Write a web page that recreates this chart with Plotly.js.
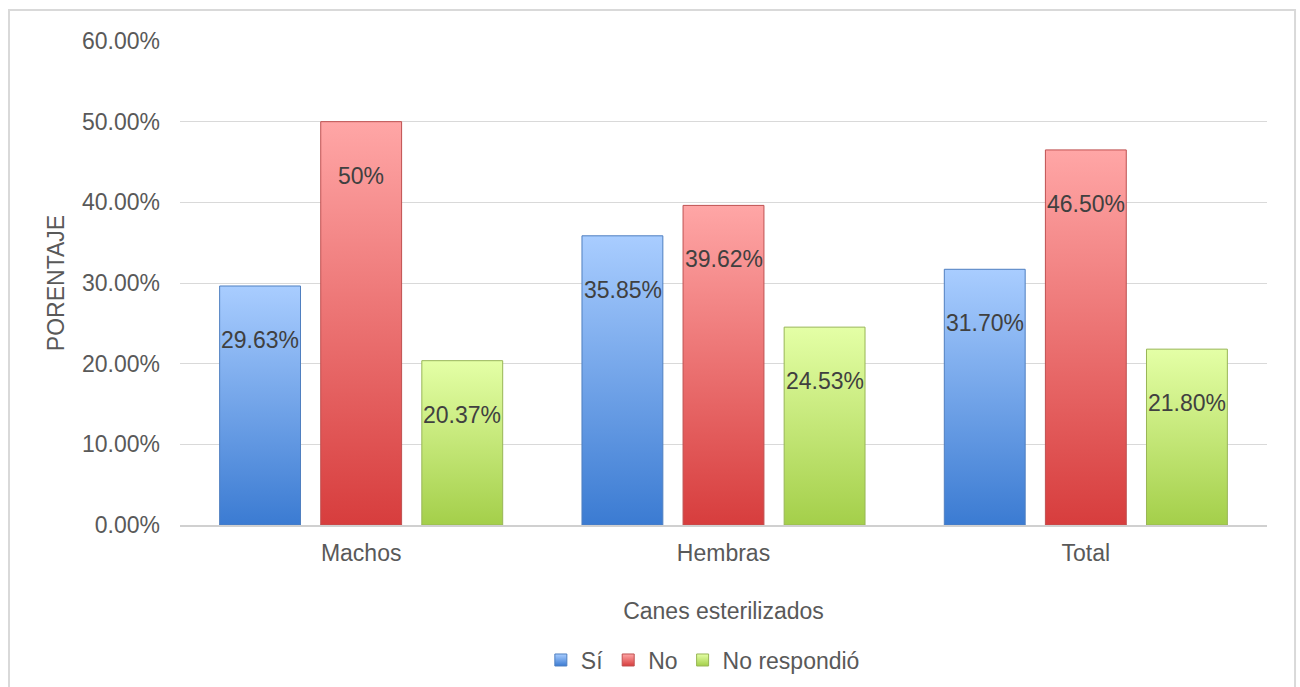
<!DOCTYPE html>
<html>
<head>
<meta charset="utf-8">
<script src="https://cdn.plot.ly/plotly-3.0.1.min.js"></script>
<style>html,body{margin:0;padding:0;background:#fff;}#chart{width:1300px;height:687px;}</style>
</head>
<body>
<div id="chart"></div>
<script>
const categories = ["Machos", "Hembras", "Total"];
const seriesNames = ["Sí", "No", "No respondió"];
const siValues = [0.2963, 0.3585, 0.3170];
const noValues = [0.50, 0.3962, 0.4650];
const nrValues = [0.2037, 0.2453, 0.2180];
const siLabels = ["29.63%", "35.85%", "31.70%"];
const noLabels = ["50%", "39.62%", "46.50%"];
const nrLabels = ["20.37%", "24.53%", "21.80%"];
const yTitle = "PORENTAJE";
const xTitle = "Canes esterilizados";

const FONT = '"Liberation Sans", Arial, sans-serif';
const FS = 23;
const solid = ["#6a9fe8", "#ec6d6d", "#c6e67a"];
const edge = ["#4f7fc0", "#bf5050", "#98b656"];
const grads = [["#a9cdff", "#3b7bd2"], ["#ffa6a6", "#d73d3d"], ["#e4ffa6", "#a4cf4a"]];

function mk(name, y, i) {
  return {
    type: "bar", name: name, x: categories, y: y,
    marker: {color: solid[i], line: {color: edge[i], width: 1}},
    hoverinfo: "skip"
  };
}
const allValues = [siValues, noValues, nrValues];
const allLabels = [siLabels, noLabels, nrLabels];
const data = allValues.map((v, i) => mk(seriesNames[i], v, i));

// data labels placed from the same values, shifted to sit inside the bars
const BAR_STEP = 101;
const annotations = [];
allValues.forEach((vals, s) => {
  vals.forEach((v, c) => {
    annotations.push({
      x: categories[c], y: v, xref: "x", yref: "y",
      text: allLabels[s][c], showarrow: false,
      xshift: (s - 1) * BAR_STEP, yshift: -54, yanchor: "middle", xanchor: "center",
      font: {family: FONT, size: FS, color: "#404040"}
    });
  });
});

const layout = {
  width: 1300, height: 687,
  margin: {l: 180, r: 33, t: 41, b: 162, autoexpand: false},
  paper_bgcolor: "#ffffff", plot_bgcolor: "#ffffff",
  font: {family: FONT, size: FS, color: "#595959"},
  barmode: "group", bargap: 0.163, bargroupgap: 0.2,
  showlegend: true,
  legend: {orientation: "h", x: 0.481, xanchor: "center", y: -0.279, yanchor: "middle",
           font: {family: FONT, size: FS, color: "#595959"}, traceorder: "normal", itemwidth: 30},
  xaxis: {
    type: "category", showgrid: false, zeroline: false,
    showline: true, linecolor: "#d0d0d0", linewidth: 2,
    ticks: "", ticklabelstandoff: 6,
    tickfont: {family: FONT, size: FS, color: "#595959"},
    title: {text: xTitle, standoff: 38, font: {family: FONT, size: FS, color: "#595959"}},
    automargin: false
  },
  yaxis: {
    range: [0, 0.60001], dtick: 0.1, tick0: 0, tickformat: ".2%",
    showgrid: true, gridcolor: "#d9d9d9", gridwidth: 1, zeroline: false, showline: false,
    ticks: "", ticklabelstandoff: 19,
    tickfont: {family: FONT, size: FS, color: "#595959"},
    title: {text: yTitle, standoff: 10, font: {family: FONT, size: FS, color: "#595959"}},
    automargin: false
  },
  annotations: annotations,
  shapes: [{type: "rect", xref: "paper", yref: "paper",
            x0: -0.1573, x1: 1.0258, y0: -0.4, y1: 1.064,
            line: {color: "#d9d9d9", width: 2}, fillcolor: "rgba(0,0,0,0)", layer: "below"}]
};

Plotly.newPlot("chart", data, layout, {staticPlot: true, displayModeBar: false}).then(gd => {
  const svg = gd.querySelector(".main-svg");
  let defs = svg.querySelector("defs");
  const NS = "http://www.w3.org/2000/svg";
  grads.forEach((g, i) => {
    const lg = document.createElementNS(NS, "linearGradient");
    lg.setAttribute("id", "bargrad" + i);
    lg.setAttribute("x1", "0"); lg.setAttribute("y1", "0");
    lg.setAttribute("x2", "0"); lg.setAttribute("y2", "1");
    [[0, g[0]], [1, g[1]]].forEach(([o, c]) => {
      const s = document.createElementNS(NS, "stop");
      s.setAttribute("offset", o); s.setAttribute("stop-color", c);
      lg.appendChild(s);
    });
    defs.appendChild(lg);
  });
  gd.querySelectorAll(".barlayer .trace.bars").forEach((tr, i) => {
    tr.querySelectorAll(".point path").forEach(p => { p.style.fill = "url(#bargrad" + i + ")"; });
  });
  gd.querySelectorAll(".legend .traces").forEach((tr, i) => {
    tr.querySelectorAll(".legendpoints path").forEach(p => { p.style.fill = "url(#bargrad" + i + ")"; });
  });
});
</script>
</body>
</html>
